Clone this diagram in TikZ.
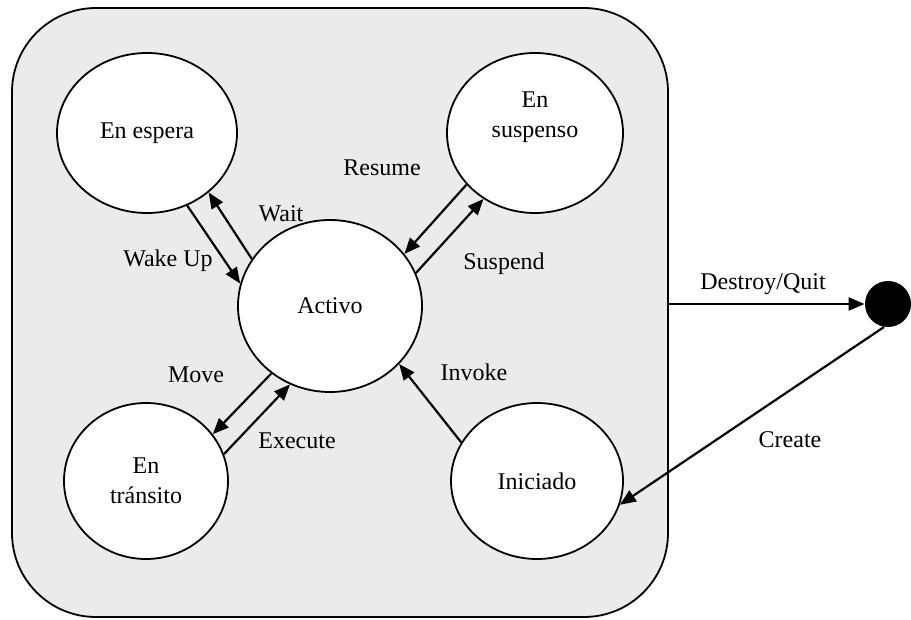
\documentclass[tikz,border=0pt]{standalone}
\usepackage{fontspec}
\setmainfont{Liberation Serif}
\usetikzlibrary{shapes.geometric,arrows.meta}
\definecolor{boxgray}{HTML}{EBEBEB}
\begin{document}
\begin{tikzpicture}[x=0.5pt,y=-0.5pt,
  st/.style={ellipse,draw,line width=0.9pt,fill=white,inner sep=0pt,align=center,font=\fontsize{12}{15}\selectfont},
  txt/.style={font=\fontsize{12}{15}\selectfont,inner sep=0pt,align=center},
  lbl/.style={font=\fontsize{12}{15}\selectfont,inner sep=0pt,anchor=base},
  arr/.style={line width=1.1pt,-{Triangle[length=8pt,width=6.5pt]}}]
\useasboundingbox (0,0) rectangle (911,620);
\node[draw,line width=0.9pt,fill=boxgray,rounded corners=42pt,minimum width=328pt,minimum height=304.5pt,inner sep=0pt] (box) at (340,312.5) {};
\node[st,minimum width=90pt,minimum height=80pt] (esp) at (147,133) {En espera};
\node[st,minimum width=88pt,minimum height=80pt] (sus) at (535,133) {};
\node[txt] (sustxt) at (535,117) {En\\suspenso};
\node[st,minimum width=92pt,minimum height=86pt] (act) at (330,306) {Activo};
\node[st,minimum width=82pt,minimum height=78pt] (tra) at (146,481) {En\\tránsito};
\node[st,minimum width=86pt,minimum height=78pt] (ini) at (537,481) {Iniciado};
\node[circle,fill=black,inner sep=0pt,minimum size=23pt] (dot) at (888,304) {};
% transitions
\draw[arr] (act.149) -- (esp.-44);
\draw[arr] (esp.-61) -- (act.166);
\draw[arr] (sus.-143) -- (act.35);
\draw[arr] (act.21) -- (sus.-128);
\draw[arr] (act.-131) -- (tra.35);
\draw[arr] (tra.19) -- (act.-117);
\draw[arr] (ini.153) -- (act.-40);
\draw[arr] (box.east |- dot) -- (dot);
\draw[arr] (dot.-100) -- (ini.-16);
% labels
\node[lbl] (lwait) at (281,222) {Wait};
\node[lbl] (lwake) at (168,267) {Wake Up};
\node[lbl] (lres) at (382,176) {Resume};
\node[lbl] (lsus) at (504,270) {Suspend};
\node[lbl] (lmove) at (196,383) {Move};
\node[lbl] (lexe) at (297,448) {Execute};
\node[lbl] (linv) at (474,381) {Invoke};
\node[lbl] (ldes) at (763,290) {Destroy/Quit};
\node[lbl] (lcre) at (790,447) {Create};
\end{tikzpicture}
\end{document}
